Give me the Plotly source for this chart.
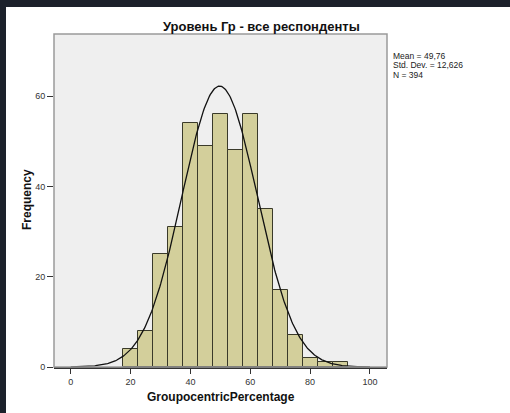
import numpy as np
import plotly.graph_objects as go

# histogram bins (centres, width 5) and counts
bin_centers = [20, 25, 30, 35, 40, 45, 50, 55, 60, 65, 70, 75, 80, 85, 90]
counts = [4, 8, 25, 31, 54, 49, 56, 48, 56, 35, 17, 7, 2, 1, 1]
bin_width = 5

mean = 49.76
std_dev = 12.626
n_total = 394

stats_lines = ["Mean = 49,76", "Std. Dev. = 12,626", "N = 394"]
x_ticks = [0, 20, 40, 60, 80, 100]
y_ticks = [0, 20, 40, 60]

W, H = 510, 413
ML, MR, MT, MB = 54, 123, 34, 46
PW, PH = W - ML - MR, H - MT - MB


def px(x):
    return (x - ML) / PW


def py(y):
    return (H - MB - y) / PH


FONT = "Liberation Sans, Arial, sans-serif"

fig = go.Figure()

fig.add_trace(go.Bar(
    x=bin_centers, y=counts, width=bin_width,
    marker=dict(color="#d3cf9b", line=dict(color="#3a3a2a", width=1)),
    hoverinfo="x+y",
))

# fitted normal curve
xc = np.linspace(0, 100, 400)
yc = n_total * bin_width / (std_dev * np.sqrt(2 * np.pi)) * np.exp(-0.5 * ((xc - mean) / std_dev) ** 2)
fig.add_trace(go.Scatter(x=xc, y=yc, mode="lines",
                         line=dict(color="#111111", width=1.3), hoverinfo="skip"))

# plot frame (gray)
fig.add_shape(type="rect", xref="x domain", yref="y domain", x0=0, x1=1, y0=0, y1=1,
              line=dict(color="#9a9a9a", width=1.5), layer="above")

# dark screenshot border, top and left
fig.add_shape(type="rect", xref="paper", yref="paper",
              x0=px(0), x1=px(W), y0=py(7), y1=py(0),
              fillcolor="#1c212b", line=dict(width=0), layer="above")
fig.add_shape(type="rect", xref="paper", yref="paper",
              x0=px(0), x1=px(6), y0=py(H), y1=py(0),
              fillcolor="#1c212b", line=dict(width=0), layer="above")

for i, line in enumerate(stats_lines):
    fig.add_annotation(text=line, xref="paper", yref="paper",
                       x=px(391), y=py(49 + i * 9.5), xanchor="left", yanchor="top",
                       showarrow=False, font=dict(family=FONT, size=8.5, color="#222"))

fig.add_annotation(text="<b>Уровень Гр - все респонденты</b>", xref="paper", yref="paper",
                   x=px(261), y=py(26), xanchor="center", yanchor="middle",
                   showarrow=False, font=dict(family=FONT, size=13, color="#111"))

# axis titles
fig.add_annotation(text="<b>Frequency</b>", xref="paper", yref="paper",
                   x=px(27), y=py(200), textangle=-90, xanchor="center", yanchor="middle",
                   showarrow=False, font=dict(family=FONT, size=12, color="#111"))
fig.add_annotation(text="<b>GroupocentricPercentage</b>", xref="paper", yref="paper",
                   x=px(221), y=py(397), xanchor="center", yanchor="middle",
                   showarrow=False, font=dict(family=FONT, size=12, color="#111"))

fig.update_layout(
    width=W, height=H,
    margin=dict(l=ML, r=MR, t=MT, b=MB, autoexpand=False),
    paper_bgcolor="white",
    plot_bgcolor="#efefef",
    showlegend=False,
    bargap=0,
    font=dict(family=FONT, size=9, color="#333"),
    xaxis=dict(range=[-5.6, 105.7], tickvals=x_ticks, ticks="outside", ticklen=5,
               tickcolor="#333", showgrid=False, zeroline=False, automargin=False,
               showline=True, linecolor="#333", linewidth=1.5),
    yaxis=dict(range=[0, 73.8], tickvals=y_ticks, ticks="outside", ticklen=6,
               tickcolor="#333", showgrid=False, zeroline=False, showline=False,
               automargin=False),
)

fig.write_html("out.html", config={"displayModeBar": False},
               post_script="document.body.style.margin='0';document.body.style.overflow='hidden';")
